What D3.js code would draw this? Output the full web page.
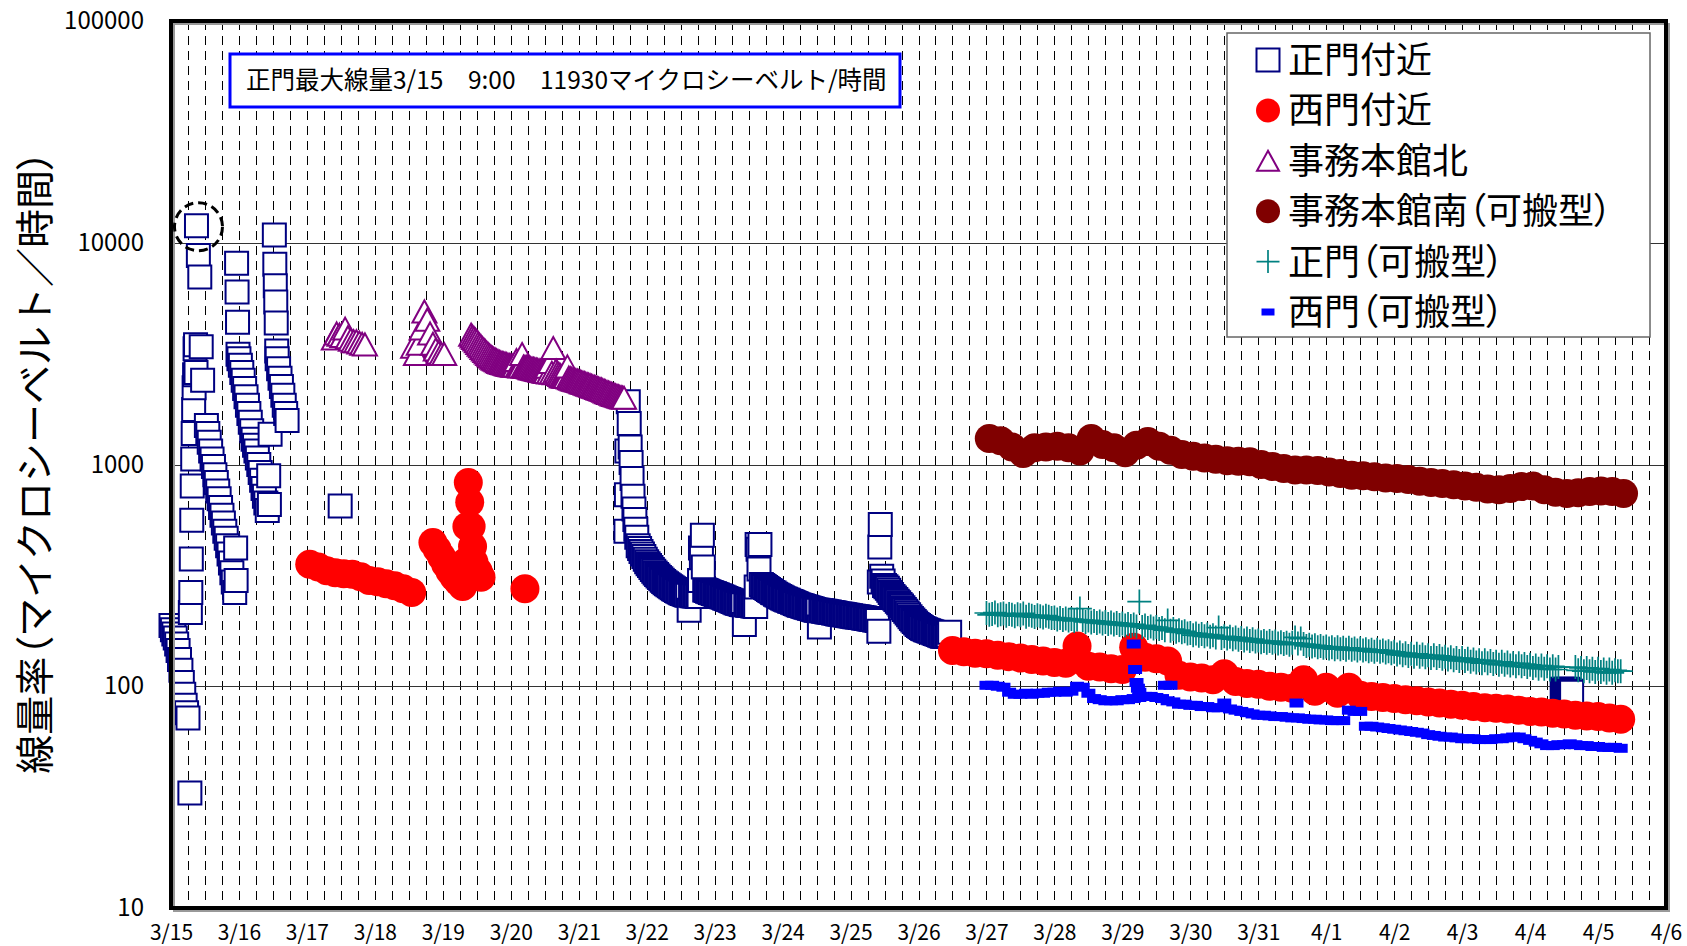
<!DOCTYPE html>
<html lang="ja">
<head>
<meta charset="utf-8">
<title>線量率</title>
<script src="https://cdn.jsdelivr.net/npm/d3@7/dist/d3.min.js"></script>
<style>
  body { margin: 0; background: #fff; }
  svg { display: block; font-family: "Noto Sans CJK JP", "Noto Sans", sans-serif; }
  .pp { font-feature-settings: "palt"; }
</style>
</head>
<body>
<div id="chart"></div>
<script>
// ---- data ----
// each series is a list of runs: [start "M/D H:MM", step in minutes, values]
const seriesNames = ['正門付近', '西門付近', '事務本館北', '事務本館南（可搬型）', '正門（可搬型）', '西門（可搬型）'];
const dayTicks = ['3/15', '3/16', '3/17', '3/18', '3/19', '3/20', '3/21', '3/22', '3/23', '3/24', '3/25', '3/26',
    '3/27', '3/28', '3/29', '3/30', '3/31', '4/1', '4/2', '4/3', '4/4', '4/5', '4/6'];
const yTicks = [10, 100, 1000, 10000, 100000];
const yTitle = '線量率（マイクロシーベルト／時間）';
const noteText = '正門最大線量3/15　9:00　11930マイクロシーベルト/時間';

const seimonNear = [
    ['3/15 0:00', 30, [188, 180, 172, 165, 155, 145, 132, 118, 104, 92, 82, 76, 72]],
    ['3/15 6:40', 10, [33, 215, 265, 375, 560, 800, 1060, 1380, 1770, 2220, 2540, 3330, 3470, 2600, 11930]],
    ['3/15 9:40', 30, [8750, 7000, 3400, 2400]],
    ['3/15 12:30', 30, [1500, 1380, 1260, 1150, 1060, 980, 900, 830, 760, 700, 640, 590, 545, 500, 465, 430, 395, 360, 325, 295, 265]],
    ['3/15 22:50', 10, [420, 300]],
    ['3/15 23:10', 10, [8080, 6000, 4380, 3140]],
    ['3/16 0:00', 30, [3000, 2800, 2600, 2400, 2200, 2020, 1850, 1700, 1550, 1420, 1300, 1220, 1150, 1070, 1000, 920, 850, 780, 720, 670, 620]],
    ['3/16 10:30', 15, [890, 660, 1370]],
    ['3/16 12:30', 10, [10850, 8000, 6400, 5400, 4350, 3250]],
    ['3/16 13:30', 30, [3000, 2700, 2450, 2250, 2050, 1850, 1700, 1580]],
    ['3/17 11:45', 0, [650]],
    ['3/21 16:40', 10, [500, 730, 1150]],
    ['3/21 17:30', 20, [1920, 1530, 1200, 1020, 865, 720, 630, 565, 510, 470]],
    ['3/21 21:00', 30, [430, 418, 405, 395, 385, 374, 364, 357, 350, 343, 336, 330, 324, 319, 314, 309, 305, 301,
        297, 293, 290, 287, 284, 281, 278, 275, 273, 270, 268, 266, 264, 262, 261, 259, 258, 257]],
    ['3/22 15:00', 0, [220]],
    ['3/22 15:30', 30, [257, 256, 256, 255, 255, 254, 254]],
    ['3/22 18:40', 20, [300, 420, 380, 480, 345]],
    ['3/22 20:30', 30, [272, 270, 268, 267, 265, 264, 262, 261, 259, 258, 256, 255, 253, 252, 250, 249, 247, 246,
        244, 243, 241, 240, 238, 237, 236, 235, 234, 233]],
    ['3/23 10:30', 0, [190]],
    ['3/23 11:00', 30, [233, 232, 232, 231, 231, 230, 230, 229]],
    ['3/23 14:40', 20, [280, 436, 415, 338, 436]],
    ['3/23 16:30', 30, [288, 285, 282, 279, 276, 273, 270, 268, 265, 263, 260, 258, 256, 254, 252, 250, 248, 247,
        245, 244, 242, 241, 239, 238, 236, 235, 233, 232, 231, 230, 229, 228, 227, 226, 225, 224, 223, 222, 221, 220, 220]],
    ['3/24 13:00', 0, [185]],
    ['3/24 13:30', 30, [219, 219, 218, 218, 217, 216, 216, 215, 215, 214, 214, 213, 212, 212, 211, 211, 210, 210,
        209, 209, 208, 208, 207, 207, 206, 206, 205, 205, 204, 204, 203, 203, 202, 202, 201, 201, 200, 200, 199, 199, 198]],
    ['3/25 10:00', 10, [177, 295, 425, 537]],
    ['3/25 11:00', 30, [313, 298, 285, 281, 277, 271, 265, 259, 254, 250, 246, 242, 238, 234, 230, 226, 222, 218,
        214, 210, 206, 202, 199, 196, 193, 190, 188, 186, 184, 182, 181, 180, 179, 178, 177, 176, 175, 174, 173, 172,
        171, 170, 169, 168, 168, 168, 168, 170, 175]],
    ['4/4 11:20', 20, [97, 96, 97, 96, 95, 96, 97, 96, 95, 95, 94]]
];

const nishimonNear = [
    ['3/17 1:00', 180, [355, 345, 332, 325, 322, 320, 312, 300, 296, 290, 284, 275, 265]],
    ['3/18 20:30', 90, [445, 415, 385, 355, 330, 310, 295]],
    ['3/19 7:00', 30, [282, 300, 363, 525, 830, 675, 525, 427, 363, 325]],
    ['3/19 12:30', 60, [330, 310]],
    ['3/20 5:00', 0, [275]],
    ['3/26 12:00', 240, [145, 143, 141, 140, 138, 136, 134, 132, 130, 128, 127, 152, 123, 122, 120, 119, 150, 135, 133, 130,
        112, 110, 109, 107, 114, 105, 103, 102, 100, 99, 98, 107, 95, 99, 93, 99, 91, 90, 89, 88,
        87, 86, 85, 84, 83, 82, 81, 80, 79.5, 79, 78, 77, 76.5, 75.5, 75, 74, 73.5, 73, 72, 71]]
];

const honkanNorth = [
    ['3/17 9:30', 60, [3700, 3900, 3850, 3800, 4100, 3750, 3650, 3600, 3600, 3550, 3500, 3480]],
    ['3/18 13:30', 60, [3400, 3150, 3500, 4100, 4900, 4500, 3900, 3500, 3300, 3200, 3150, 3150]],
    ['3/19 10:00', 30, [3850, 3780, 3720, 3660, 3600, 3530, 3470, 3410, 3350, 3300, 3250, 3200, 3150, 3110,
        3070, 3030, 3000, 2975, 2950, 2925, 2900, 2885, 2870, 2860, 2850, 2835, 2820, 2810,
        2800, 2795, 2790, 2785, 2960, 2780, 2775, 2770, 3150, 2765, 2760, 2755, 2750, 2735, 2720, 2710,
        2700, 2690, 2680, 2670, 2660, 2650, 2640, 2630, 2620, 2610, 2760, 2600, 2900, 2590, 3350, 2580,
        2650, 2600, 2560, 2530, 2500, 2495, 2490, 2480, 2770, 2465, 2450, 2435, 2420, 2410, 2400, 2390,
        2380, 2365, 2350, 2340, 2330, 2315, 2300, 2290, 2280, 2265, 2250, 2240, 2230, 2215, 2200, 2190,
        2180, 2165, 2150, 2135, 2120, 2110, 2100, 2085, 2070, 2060, 2050, 2040, 2030, 2020, 2010, 2005, 2000]]
];

const honkanSouth = [
    ['3/27 1:00', 240, [1310, 1280, 1200, 1120, 1190, 1200, 1210, 1190, 1150, 1310, 1230, 1190, 1130, 1220, 1270, 1210, 1160, 1110, 1090, 1070,
        1055, 1040, 1035, 1030, 1000, 980, 960, 945, 945, 940, 925, 910, 895, 890, 880, 870, 865, 855, 840, 830,
        820, 810, 800, 790, 775, 770, 780, 795, 800, 770, 750, 740, 745, 755, 760, 755, 740]]
];

const seimonPortable = [
    ['3/27 0:00', 60, [
        214, 210, 212, 215, 209, 211, 213, 208, 212, 210, 207, 211, 209, 213, 206, 210, 208, 205, 209, 207, 204, 208, 206, 203,
        204, 200, 203, 199, 202, 198, 201, 197, 200, 224, 199, 195, 198, 194, 197, 193, 196, 192, 195, 191, 194, 190, 193, 189,
        192, 188, 191, 187, 190, 186, 241, 185, 188, 183, 186, 182, 185, 181, 183, 179, 198, 178, 181, 176, 179, 175, 177, 173,
        174, 170, 173, 169, 172, 168, 171, 167, 170, 166, 184, 165, 168, 164, 167, 163, 166, 162, 165, 161, 164, 160, 163, 159,
        161, 158, 160, 157, 160, 157, 159, 156, 158, 155, 157, 154, 157, 166, 156, 164, 155, 152, 154, 151, 153, 150, 152, 149,
        151, 148, 150, 147, 150, 147, 149, 146, 149, 146, 148, 145, 148, 145, 147, 144, 146, 143, 146, 143, 145, 142, 144, 141,
        143, 139, 142, 138, 141, 137, 140, 136, 140, 136, 139, 135, 138, 134, 138, 134, 137, 133, 136, 132, 135, 131, 134, 130,
        134, 130, 133, 129, 132, 128, 131, 127, 131, 127, 130, 126, 129, 125, 129, 125, 128, 124, 127, 123, 127, 123, 126, 122,
        125, 121, 124, 120, 124, 120, 123, 119, 123, 119, 122]],
    ['4/4 16:00', 60, [122, 118, 121, 117, 121, 117, 120, 116, 120, 116, 119, 115, 119, 115, 118, 117, 117]]
];

const nishimonPortable = [
    ['3/27 0:00', 120, [
        101, 101, 100, 99, 94, 92, 92, 93, 92, 93, 93, 94,
        94, 95, 94, 95, 100, 99, 93, 88, 87, 86, 86, 86,
        87, 87, 88, 89, 90, 90, 89, 88, 86, 85, 83, 83,
        82, 82, 81, 81, 80, 80, 84, 79, 78, 77, 76, 75,
        74, 74, 73.5, 73, 73, 72.5, 72, 72, 71.5, 71, 71, 70.5,
        70.5, 70, 70, 70, 78, 77, 77, 66, 66, 65.5, 65, 64.5,
        64, 63.5, 63, 62.5, 62, 61.5, 60.5, 60, 59.5, 59, 59, 58.5,
        58, 58, 58, 57.5, 57.5, 57.5, 58, 58, 58.5, 59, 59, 58,
        57, 56, 55, 54, 54, 54.5, 54.5, 55, 54.5, 54, 54, 53.5,
        53.5, 53, 53, 53, 52.5]],
    ['3/29 4:00', 30, [155, 119, 104, 98, 94]],
    ['3/29 15:00', 120, [101, 101]],
    ['3/31 13:30', 0, [84]]
];

// ---- layout ----
const width = 1687, height = 946;
const plot = { left: 171, right: 1666, top: 21, bottom: 908 };

function toDate(s) {
    const [md, hm] = s.split(' ');
    const [m, d] = md.split('/').map(Number);
    const [h, mi] = (hm || '0:00').split(':').map(Number);
    return new Date(2011, m - 1, d, h, mi);
}

function expand(runs) {
    const out = [];
    runs.forEach(([start, step, values]) => {
        const t0 = toDate(start).getTime();
        values.forEach((v, i) => out.push({ t: new Date(t0 + i * step * 60000), v }));
    });
    return out;
}

// full-width brackets get proportional width (palt), the rest stays as is
function setJaText(sel, str) {
    sel.selectAll('tspan')
        .data(str.split(/([（）])/).filter(s => s))
        .join('tspan')
        .attr('class', s => /[（）]/.test(s) ? 'pp' : null)
        .text(s => s);
}

const x = d3.scaleTime()
    .domain([toDate(dayTicks[0]), toDate(dayTicks[dayTicks.length - 1])])
    .range([plot.left, plot.right]);

const y = d3.scaleLog()
    .domain([yTicks[0], yTicks[yTicks.length - 1]])
    .range([plot.bottom, plot.top]);

// marker shapes, one per series (legend order is drawing order)
const circlePath = r => d3.symbol(d3.symbolCircle, Math.PI * r * r)();
const styles = [
    { d: 'M-11.5,-11.5H11.5V11.5H-11.5Z', fill: '#fff', stroke: '#000080', sw: 2,
      legend: 'M-11.5,-11.5H11.5V11.5H-11.5Z' },
    { d: circlePath(14.5), fill: '#ff0000', stroke: 'none', sw: 0, legend: circlePath(12) },
    { d: 'M0,-11L12,11H-12Z', fill: '#fff', stroke: '#800080', sw: 2, legend: 'M0,-10L11,10H-11Z' },
    { d: circlePath(14.5), fill: '#800000', stroke: 'none', sw: 0, legend: circlePath(12) },
    { d: 'M-12,0H12M0,-12V12', fill: 'none', stroke: '#008080', sw: 1.7, legend: 'M-11.5,0H11.5M0,-11.5V11.5' },
    { d: 'M-7,-4.5H7V4.5H-7Z', fill: '#0000ff', stroke: 'none', sw: 0, legend: 'M-6.5,-3.5H6.5V3.5H-6.5Z' }
];
const seriesData = [seimonNear, nishimonNear, honkanNorth, honkanSouth, seimonPortable, nishimonPortable].map(expand);

const svg = d3.select('#chart')
    .append('svg')
    .attr('width', width)
    .attr('height', height);

// dashed vertical grid, every 6 hours
const gridTimes = d3.timeHour.every(6).range(x.domain()[0], x.domain()[1]).slice(1);
svg.append('g')
    .selectAll('line')
    .data(gridTimes)
    .join('line')
    .attr('x1', d => Math.round(x(d)) + 0.5)
    .attr('x2', d => Math.round(x(d)) + 0.5)
    .attr('y1', plot.top)
    .attr('y2', plot.bottom)
    .attr('stroke', '#000')
    .attr('stroke-width', 1)
    .attr('stroke-dasharray', '9,6');

// solid horizontal grid at the inner decades
svg.append('g')
    .selectAll('line')
    .data(yTicks.slice(1, -1))
    .join('line')
    .attr('x1', plot.left)
    .attr('x2', plot.right)
    .attr('y1', d => Math.round(y(d)) + 0.5)
    .attr('y2', d => Math.round(y(d)) + 0.5)
    .attr('stroke', '#333')
    .attr('stroke-width', 1.2);

// series
seriesData.forEach((data, i) => {
    const st = styles[i];
    svg.append('g')
        .selectAll('path')
        .data(data)
        .join('path')
        .attr('d', st.d)
        .attr('transform', d => `translate(${x(d.t)},${y(d.v)})`)
        .attr('fill', st.fill)
        .attr('stroke', st.stroke)
        .attr('stroke-width', st.sw);
});

// plot frame with its shadow
svg.append('rect')
    .attr('x', plot.left + 3).attr('y', plot.top + 3)
    .attr('width', plot.right - plot.left).attr('height', plot.bottom - plot.top)
    .attr('fill', 'none').attr('stroke', '#999').attr('stroke-width', 2);
svg.append('rect')
    .attr('x', plot.left).attr('y', plot.top)
    .attr('width', plot.right - plot.left).attr('height', plot.bottom - plot.top)
    .attr('fill', 'none').attr('stroke', '#000').attr('stroke-width', 4);

// axes
const yAxis = svg.append('g')
    .attr('transform', `translate(${plot.left},0)`)
    .call(d3.axisLeft(y).tickValues(yTicks).tickFormat(d3.format('d')).tickSize(0).tickPadding(27));
const xAxis = svg.append('g')
    .attr('transform', `translate(0,${plot.bottom})`)
    .call(d3.axisBottom(x).tickValues(dayTicks.map(toDate)).tickFormat((d, i) => dayTicks[i]).tickSize(0).tickPadding(17));
[yAxis, xAxis].forEach(a => {
    a.select('.domain').remove();
    a.attr('font-family', null).attr('font-size', null);
    a.selectAll('text').attr('fill', '#000');
});
yAxis.selectAll('text').style('font-size', '24px');
xAxis.selectAll('text').style('font-size', '21px');

svg.append('text')
    .attr('transform', 'translate(32,462) rotate(-90)')
    .attr('text-anchor', 'middle')
    .attr('dominant-baseline', 'central')
    .style('font-size', '39px')
    .call(setJaText, yTitle);

// note box and the dashed ring around the maximum
svg.append('rect')
    .attr('x', 230).attr('y', 54).attr('width', 670).attr('height', 53)
    .attr('fill', '#fff').attr('stroke', '#0000ff').attr('stroke-width', 3);
svg.append('text')
    .attr('x', 246).attr('y', 89)
    .style('font-size', '24.5px')
    .text(noteText);

const peak = { t: toDate('3/15 9:00'), v: 11930 };
svg.append('circle')
    .attr('cx', x(peak.t) + 2).attr('cy', y(peak.v) + 1).attr('r', 24)
    .attr('fill', 'none').attr('stroke', '#000').attr('stroke-width', 3)
    .attr('stroke-dasharray', '9,5');

// legend
const legend = svg.append('g').attr('transform', 'translate(1227,33)');
legend.append('rect')
    .attr('width', 423).attr('height', 304)
    .attr('fill', '#fff').attr('stroke', '#666').attr('stroke-width', 1.5);
const rows = legend.selectAll('g.row')
    .data(seriesNames)
    .join('g')
    .attr('class', 'row')
    .attr('transform', (d, i) => `translate(0,${27 + i * 50.4})`);
rows.append('path')
    .attr('transform', 'translate(41,0)')
    .attr('d', (d, i) => styles[i].legend)
    .attr('fill', (d, i) => styles[i].fill)
    .attr('stroke', (d, i) => styles[i].stroke)
    .attr('stroke-width', (d, i) => styles[i].sw);
rows.append('text')
    .attr('x', 61)
    .attr('dy', '0.36em')
    .style('font-size', '36px')
    .each(function (d) { d3.select(this).call(setJaText, d); });
</script>
</body>
</html>
